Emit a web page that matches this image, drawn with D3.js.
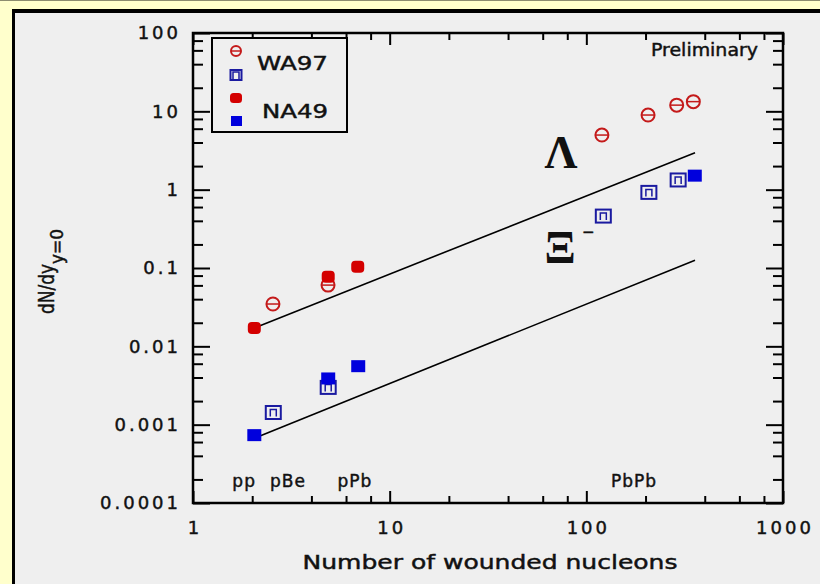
<!DOCTYPE html>
<html>
<head>
<meta charset="utf-8">
<script src="https://cdn.jsdelivr.net/npm/d3@7"></script>
<style>
  body { margin: 0; background: #ffffcc; }
  svg { display: block; }
  text { font-family: "DejaVu Sans", sans-serif; fill: #111; stroke: #111; stroke-width: 0.45px; }
</style>
</head>
<body>
<script>
const width = 820
const height = 584

/* Data */
const wa97LambdaX = [2.55, 4.86, 120, 206, 288, 350]
const wa97LambdaY = [0.0347, 0.0605, 4.98, 8.97, 12.0, 13.3]
const na49LambdaX = [2.05, 4.87, 6.88]
const na49LambdaY = [0.0172, 0.0773, 0.1035]
const wa97XiX = [2.56, 4.87, 122, 208, 293]
const wa97XiY = [0.00143, 0.00299, 0.46, 0.923, 1.33]
const na49XiX = [2.05, 4.87, 6.92, 356]
const na49XiY = [0.000735, 0.00389, 0.00558, 1.51]
const lambdaFitX = [2.05, 357]
const lambdaFitY = [0.0172, 2.96]
const xiFitX = [2.05, 357]
const xiFitY = [0.00067, 0.126]

const xTicks = [1, 10, 100, 1000]
const xTickLabels = ["1", "10", "100", "1000"]
const yTicks = [0.0001, 0.001, 0.01, 0.1, 1, 10, 100]
const yTickLabels = ["0.0001", "0.001", "0.01", "0.1", "1", "10", "100"]

const systems = ["pp", "pBe", "pPb", "PbPb"]
const systemX = [1.82, 3.04, 6.66, 174.6]

/* Plot box */
const plotLeft = 193, plotRight = 783, plotTop = 33, plotBottom = 503

const x = d3.scaleLog().domain([1, 1000]).range([plotLeft, plotRight])
const y = d3.scaleLog().domain([0.0001, 100]).range([plotBottom, plotTop])

const svg = d3.select("body").append("svg")
  .attr("width", width)
  .attr("height", height)

/* Yellow page with black framed panel */
svg.append("rect").attr("width", width).attr("height", height).attr("fill", "#ffffcc")
svg.append("rect").attr("width", width).attr("height", 1).attr("fill", "#8c8c70")
svg.append("rect").attr("x", 12).attr("y", 9).attr("width", width).attr("height", height)
  .attr("fill", "#000")
svg.append("rect").attr("x", 15).attr("y", 13).attr("width", width).attr("height", height)
  .attr("fill", "#efefef")

/* Minor tick positions: 2,4,6,8 in every decade */
const minor = (lo, n) => d3.range(n).flatMap(e => [2, 4, 6, 8].map(m => m * lo * Math.pow(10, e)))
const xMinor = minor(1, 3)
const yMinor = minor(0.0001, 6)

function styleAxis(g) {
  g.select(".domain").remove()
  g.selectAll("line").attr("stroke", "#000").attr("stroke-width", 2)
  g.selectAll("text").attr("font-size", 18).attr("letter-spacing", 3).attr("fill", "#111")
}

/* Bottom axis */
svg.append("g").attr("transform", `translate(0,${plotBottom})`)
  .call(d3.axisBottom(x).tickValues(xTicks).tickFormat((d, i) => xTickLabels[i])
    .tickSizeInner(-12).tickSizeOuter(0).tickPadding(18))
  .call(styleAxis)
  .selectAll("text").attr("dx", 1.5)
svg.append("g").attr("transform", `translate(0,${plotBottom})`)
  .call(d3.axisBottom(x).tickValues(xMinor).tickFormat("").tickSizeInner(-7).tickSizeOuter(0))
  .call(styleAxis)

/* Top axis */
svg.append("g").attr("transform", `translate(0,${plotTop})`)
  .call(d3.axisTop(x).tickValues(xTicks).tickFormat("").tickSizeInner(-12).tickSizeOuter(0))
  .call(styleAxis)
svg.append("g").attr("transform", `translate(0,${plotTop})`)
  .call(d3.axisTop(x).tickValues(xMinor).tickFormat("").tickSizeInner(-7).tickSizeOuter(0))
  .call(styleAxis)

/* Left axis */
svg.append("g").attr("transform", `translate(${plotLeft},0)`)
  .call(d3.axisLeft(y).tickValues(yTicks).tickFormat((d, i) => yTickLabels[i])
    .tickSizeInner(-17).tickSizeOuter(0).tickPadding(12))
  .call(styleAxis)
svg.append("g").attr("transform", `translate(${plotLeft},0)`)
  .call(d3.axisLeft(y).tickValues(yMinor).tickFormat("").tickSizeInner(-10).tickSizeOuter(0))
  .call(styleAxis)

/* Right axis */
svg.append("g").attr("transform", `translate(${plotRight},0)`)
  .call(d3.axisRight(y).tickValues(yTicks).tickFormat("").tickSizeInner(-17).tickSizeOuter(0))
  .call(styleAxis)
svg.append("g").attr("transform", `translate(${plotRight},0)`)
  .call(d3.axisRight(y).tickValues(yMinor).tickFormat("").tickSizeInner(-10).tickSizeOuter(0))
  .call(styleAxis)

/* Plot frame */
svg.append("rect")
  .attr("x", plotLeft).attr("y", plotTop)
  .attr("width", plotRight - plotLeft).attr("height", plotBottom - plotTop)
  .attr("fill", "none").attr("stroke", "#000").attr("stroke-width", 2.5)

/* Fit lines */
const line = d3.line().x(d => x(d[0])).y(d => y(d[1]))
;[[lambdaFitX, lambdaFitY], [xiFitX, xiFitY]].forEach(([xs, ys]) => {
  svg.append("path")
    .attr("d", line(d3.zip(xs, ys)))
    .attr("fill", "none").attr("stroke", "#000").attr("stroke-width", 1.6)
})

/* Marker helpers */
const red = "#d40000", redOpen = "#c41a1a", blue = "#0000dd", blueOpen = "#1a1aa0"

function openCircle(g, cx, cy, r) {
  g.append("circle").attr("cx", cx).attr("cy", cy).attr("r", r)
    .attr("fill", "none").attr("stroke", redOpen).attr("stroke-width", 2)
  g.append("line").attr("x1", cx - r).attr("x2", cx + r).attr("y1", cy).attr("y2", cy)
    .attr("stroke", redOpen).attr("stroke-width", 1.5)
}
function openSquare(g, cx, cy, w, h) {
  g.append("rect").attr("x", cx - w / 2).attr("y", cy - h / 2).attr("width", w).attr("height", h)
    .attr("fill", "none").attr("stroke", blueOpen).attr("stroke-width", 2)
  g.append("path").attr("d", `M${cx - 3},${cy + 4}V${cy - 3}H${cx + 3}V${cy + 4}`)
    .attr("fill", "none").attr("stroke", blueOpen).attr("stroke-width", 1.5)
}

const marks = svg.append("g")
d3.zip(wa97LambdaX, wa97LambdaY).forEach(d => openCircle(marks, x(d[0]), y(d[1]), 6.5))
marks.selectAll(".nl").data(d3.zip(na49LambdaX, na49LambdaY)).join("rect")
  .attr("x", d => x(d[0]) - 6.5).attr("y", d => y(d[1]) - 6)
  .attr("width", 13).attr("height", 12).attr("rx", 4)
  .attr("fill", red)
d3.zip(wa97XiX, wa97XiY).forEach(d => openSquare(marks, x(d[0]), y(d[1]), 15, 13))
marks.selectAll(".nx").data(d3.zip(na49XiX, na49XiY)).join("rect")
  .attr("x", d => x(d[0]) - 7).attr("y", d => y(d[1]) - 6)
  .attr("width", 14).attr("height", 12)
  .attr("fill", blue)

/* Legend */
const lg = svg.append("g")
lg.append("rect").attr("x", 212).attr("y", 38).attr("width", 135).attr("height", 94)
  .attr("fill", "#efefef").attr("stroke", "#000").attr("stroke-width", 2)
openCircle(lg, 236, 51, 5)
openSquare(lg, 236, 75, 11, 10)
lg.append("rect").attr("x", 230).attr("y", 93).attr("width", 12).attr("height", 10).attr("rx", 3.5).attr("fill", red)
lg.append("rect").attr("x", 231).attr("y", 116).attr("width", 11).attr("height", 10).attr("fill", blue)
lg.append("text").attr("x", 257).attr("y", 70).attr("font-size", 19)
  .attr("textLength", 71).attr("lengthAdjust", "spacingAndGlyphs").text("WA97")
lg.append("text").attr("x", 262).attr("y", 118).attr("font-size", 19)
  .attr("textLength", 66).attr("lengthAdjust", "spacingAndGlyphs").text("NA49")

/* Annotations */
svg.append("text").attr("x", 758).attr("y", 56).attr("text-anchor", "end")
  .attr("font-size", 17).attr("textLength", 107).attr("lengthAdjust", "spacingAndGlyphs")
  .text("Preliminary")

svg.append("text").attr("x", 561).attr("y", 168).attr("text-anchor", "middle")
  .style("font-family", "'Liberation Serif', serif").attr("font-weight", "bold").attr("font-size", 46)
  .style("stroke-width", 0)
  .text("Λ")
svg.append("text").attr("x", 560).attr("y", 263).attr("text-anchor", "middle")
  .style("font-family", "'Liberation Serif', serif").attr("font-weight", "bold").attr("font-size", 46)
  .style("stroke-width", 0)
  .text("Ξ")
svg.append("text").attr("x", 582).attr("y", 237)
  .attr("font-size", 15).text("−")

svg.selectAll(".sys").data(systems).join("text")
  .attr("x", (d, i) => x(systemX[i])).attr("y", y(0.00016))
  .attr("text-anchor", "middle").attr("font-size", 17).attr("letter-spacing", 1)
  .text(d => d)

/* Axis titles */
svg.append("text").attr("x", 490).attr("y", 569).attr("text-anchor", "middle")
  .attr("font-size", 19).attr("textLength", 375).attr("lengthAdjust", "spacingAndGlyphs")
  .text("Number of wounded nucleons")

const yt = svg.append("text").attr("transform", "translate(54,314) rotate(-90)")
yt.append("tspan").attr("font-size", 22).attr("textLength", 50)
  .attr("lengthAdjust", "spacingAndGlyphs").text("dN/dy")
yt.append("tspan").attr("font-size", 17).attr("dy", 9).text("y=0")
</script>
</body>
</html>
